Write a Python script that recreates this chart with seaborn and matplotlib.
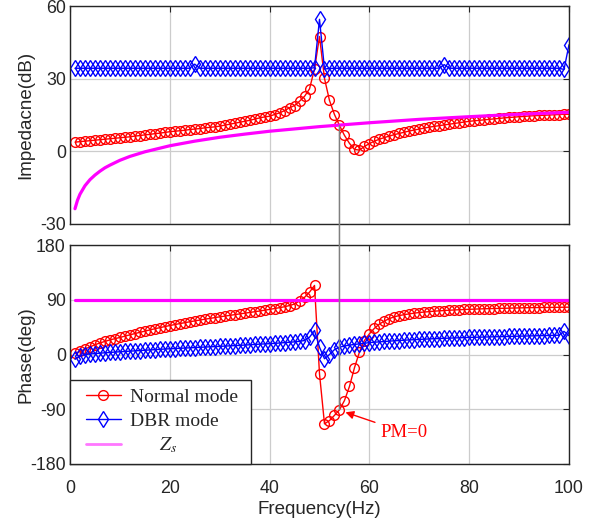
import matplotlib
matplotlib.use('Agg')
import matplotlib.pyplot as plt
import seaborn as sns
from matplotlib.lines import Line2D
from matplotlib.patches import ConnectionPatch
from matplotlib.legend_handler import HandlerLine2D

# ---------------- data ----------------
freq = list(range(1, 101))

normal_mag = [3.8, 4.0, 4.2, 4.4, 4.6, 4.8, 5.0, 5.2, 5.4, 5.6,
              5.8, 6.0, 6.3, 6.5, 6.8, 7.0, 7.3, 7.5, 7.8, 8.1,
              8.3, 8.5, 8.7, 9.0, 9.2, 9.4, 9.7, 9.9, 10.1, 10.4,
              10.8, 11.2, 11.6, 12.0, 12.4, 12.8, 13.3, 13.8, 14.2, 14.5,
              15.2, 15.9, 16.8, 18.0, 18.9, 20.7, 22.7, 25.8, 34.0, 47.4,
              30.1, 21.0, 15.2, 10.7, 6.6, 3.3, 0.8, 0.5, 2.0, 3.2,
              4.2, 5.0, 5.7, 6.3, 6.9, 7.4, 7.9, 8.4, 8.8, 9.2,
              9.6, 10.0, 10.3, 10.6, 10.9, 11.2, 11.5, 11.8, 12.1, 12.4,
              12.6, 12.8, 13.0, 13.2, 13.4, 13.6, 13.8, 14.0, 14.1, 14.3,
              14.4, 14.6, 14.7, 14.8, 14.9, 15.0, 15.1, 15.2, 15.3, 15.3]

dbr_mag = [34.3, 34.3, 34.3, 34.3, 34.3, 34.3, 34.3, 34.3, 34.3, 34.3,
           34.3, 34.3, 34.3, 34.3, 34.3, 34.3, 34.3, 34.3, 34.3, 34.3,
           34.3, 34.3, 34.3, 34.3, 36.0, 34.3, 34.3, 34.3, 34.3, 34.3,
           34.3, 34.3, 34.3, 34.3, 34.3, 34.3, 34.3, 34.3, 34.3, 34.3,
           34.3, 34.3, 34.3, 34.3, 34.3, 34.3, 34.3, 34.3, 34.5, 54.5,
           34.0, 34.2, 34.3, 34.3, 34.3, 34.3, 34.3, 34.3, 34.3, 34.3,
           34.3, 34.3, 34.3, 34.3, 34.3, 34.3, 34.3, 34.3, 34.3, 34.3,
           34.3, 34.3, 34.3, 34.3, 35.8, 34.3, 34.3, 34.3, 34.3, 34.3,
           34.3, 34.3, 34.3, 34.3, 34.3, 34.3, 34.3, 34.3, 34.3, 34.3,
           34.3, 34.3, 34.3, 34.3, 34.3, 34.3, 34.3, 34.3, 33.8, 44.0]

zs_freq = [1, 1.5, 2, 3, 4, 5, 6, 7, 8, 10, 12, 15, 20, 25, 30, 35, 40,
           50, 60, 70, 80, 90, 100]
zs_mag = [-23.7, -20.2, -17.7, -14.2, -11.7, -9.8, -8.2, -6.8, -5.7, -3.7,
          -2.1, -0.2, 2.3, 4.2, 5.8, 7.1, 8.3, 10.2, 11.8, 13.2, 14.3,
          15.3, 16.1]

normal_phase = [2, 5, 9, 12.5, 16, 19, 21.5, 24, 26, 28,
                30.2, 32.3, 34.4, 36.4, 38.4, 40.4, 42.3, 44.1, 45.9, 47.6,
                49.2, 50.8, 52.3, 53.8, 55.2, 56.6, 58, 59.3, 60.6, 61.9,
                63.1, 64.3, 65.5, 66.7, 67.9, 69.1, 70.3, 71.5, 72.8, 74.2,
                75.6, 77.0, 78.5, 80.5, 83, 88, 94, 102.5, 113.5, -31.8,
                -114, -108.6, -100, -91, -75.7, -52.6, -22, 3.8, 23, 34,
                43, 50, 55, 59, 62, 64, 65.5, 66.8, 68, 69,
                69.8, 70.5, 71.2, 71.8, 72.3, 72.8, 73.2, 73.6, 74, 74.3,
                74.6, 74.9, 75.2, 75.4, 75.6, 75.8, 76, 76.2, 76.4, 76.6,
                76.8, 77, 77.1, 77.2, 77.3, 77.4, 77.5, 77.6, 77.7, 77.8]

dbr_phase = [-8, -2, 0, 0.8, 1.5, 2.2, 2.8, 3.4, 4, 4.5,
             5, 5.5, 6, 6.5, 7, 7.5, 8, 8.5, 9, 9.4,
             9.8, 10.2, 10.6, 11, 11.4, 11.8, 12.2, 12.6, 13, 13.4,
             13.8, 14.2, 14.6, 15, 15.5, 16, 16.5, 17, 17.4, 17.8,
             18.3, 18.9, 19.5, 20.1, 20.8, 21.7, 23, 28.5, 39.5, 12,
             -7, 0, 8, 12, 14, 15.5, 16.5, 17.5, 18.5, 19.5,
             20.2, 20.8, 21.4, 22, 22.5, 23, 23.5, 24, 24.4, 24.8,
             25.2, 25.6, 26, 26.3, 26.6, 26.9, 27.2, 27.5, 27.8, 28.1,
             28.3, 28.5, 28.7, 28.9, 29.1, 29.3, 29.5, 29.7, 29.9, 30.1,
             30.3, 30.5, 30.7, 30.9, 31.1, 31.3, 31.5, 31.7, 38, 31]

zs_phase_freq = [1, 100]
zs_phase = [90, 90]

pm_freq = 54
x_ticks = [0, 20, 40, 60, 80, 100]
mag_ticks = [-30, 0, 30, 60]
phase_ticks = [-180, -90, 0, 90, 180]

# ---------------- style ----------------
sns.set_style('white')
plt.rcParams['font.family'] = ['Liberation Sans', 'DejaVu Sans']
plt.rcParams['mathtext.fontset'] = 'stix'
plt.rcParams['axes.unicode_minus'] = False

fig = plt.figure(figsize=(6.03, 5.29), dpi=100)
L, W = 70 / 603, 499 / 603
ax1 = fig.add_axes([L, 1 - 224 / 529, W, 218 / 529])
ax2 = fig.add_axes([L, 1 - 464 / 529, W, 219 / 529])

red_kw = dict(color='red', marker='o', markersize=7.0, markerfacecolor='none',
              markeredgecolor='red', markeredgewidth=1.0, linewidth=1.0)
blue_kw = dict(color='blue', marker='d', markersize=8.5, markerfacecolor='none',
               markeredgecolor='blue', markeredgewidth=1.0, linewidth=1.0)
mag_kw = dict(color='#ff00ff', linewidth=2.3)

sns.lineplot(x=freq, y=normal_mag, ax=ax1, estimator=None, sort=False, **red_kw)
sns.lineplot(x=freq, y=dbr_mag, ax=ax1, estimator=None, sort=False, **blue_kw)
sns.lineplot(x=zs_freq, y=zs_mag, ax=ax1, estimator=None, sort=False, **mag_kw)

sns.lineplot(x=freq, y=normal_phase, ax=ax2, estimator=None, sort=False, **red_kw)
sns.lineplot(x=freq, y=dbr_phase, ax=ax2, estimator=None, sort=False, **blue_kw)
sns.lineplot(x=zs_phase_freq, y=zs_phase, ax=ax2, estimator=None, sort=False, **mag_kw)

for ax, yt, lab in [(ax1, mag_ticks, 'Impedacne(dB)'), (ax2, phase_ticks, 'Phase(deg)')]:
    ax.set_xlim(0, 100)
    ax.set_ylim(yt[0], yt[-1])
    ax.set_xticks(x_ticks)
    ax.set_yticks(yt)
    ax.grid(True, color='#cccccc', linewidth=0.9)
    ax.set_axisbelow(True)
    for s in ax.spines.values():
        s.set_color('#262626')
        s.set_linewidth(1.0)
        s.set_visible(True)
    ax.tick_params(direction='in', length=4, width=0.8, color='#262626',
                   top=True, right=True, labelsize=12.8,
                   labelcolor='#262626')
    ax.tick_params(axis='y', pad=3)
    ax.tick_params(axis='x', pad=11.5)
    ax.set_ylabel(lab, fontsize=13.5, color='#262626')
    ax.set_xlabel('')

ax1.tick_params(labelbottom=False)
ax2.set_xlabel('Frequency(Hz)', fontsize=13.5, color='#262626', labelpad=3)
ax1.yaxis.set_label_coords(-0.072, 0.5)
ax2.yaxis.set_label_coords(-0.072, 0.5)

# vertical connection line at PM=0 frequency
i = freq.index(pm_freq)
con = ConnectionPatch(xyA=(pm_freq, normal_mag[i]), coordsA=ax1.transData,
                      xyB=(pm_freq, normal_phase[i]), coordsB=ax2.transData,
                      color='#808080', linewidth=1.1, zorder=5)
fig.add_artist(con)

ax2.annotate('PM=0', xy=(55.2, -95), xytext=(62.3, -128),
             fontsize=13.5, color='red', family='Liberation Serif',
             ha='left', va='center',
             arrowprops=dict(arrowstyle='-|>', color='red', lw=1.0,
                             mutation_scale=12, shrinkA=2, shrinkB=0))

handles = [Line2D([], [], **red_kw),
           Line2D([], [], **blue_kw),
           Line2D([], [], color='#ff77ff', linewidth=2.0)]
labels = ['Normal mode ', 'DBR mode', r'      $Z_s$']
hmap = {h: HandlerLine2D(xpad=0.36) for h in handles}
leg = ax2.legend(handles, labels, loc='lower left', bbox_to_anchor=(0, 0),
                 borderaxespad=0, frameon=True, fancybox=False, framealpha=1,
                 edgecolor='#262626', prop={'family': 'Liberation Serif', 'size': 14},
                 handlelength=2.17, handletextpad=0.45, borderpad=0.45,
                 labelspacing=0.3, handler_map=hmap)
leg.get_frame().set_linewidth(1.0)

fig.savefig('out.png', dpi=100)
